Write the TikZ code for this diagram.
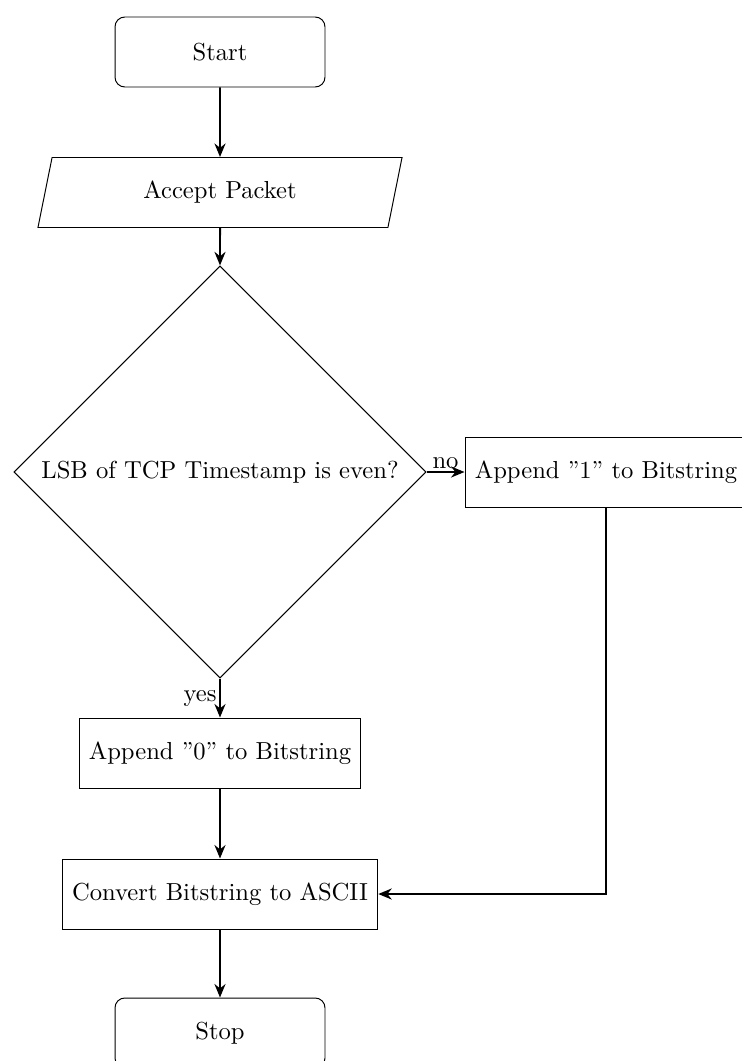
\documentclass[tikz,border=0pt]{standalone}
\usetikzlibrary{shapes.geometric,arrows.meta}
\begin{document}
\begin{tikzpicture}[x=0.4065pt,y=-0.4065pt,
  base/.style={draw=black, line width=0.4pt, align=center, minimum height=1cm},
  startstop/.style={base, rectangle, rounded corners=4pt, minimum width=3cm},
  io/.style={base, trapezium, trapezium left angle=70, trapezium right angle=110,
             trapezium stretches body, minimum width=148pt},
  process/.style={base, rectangle, inner xsep=4pt},
  decision/.style={base, diamond, aspect=1},
  arrow/.style={thick, -{Stealth[length=5.5pt,width=4.5pt]}},
  lbl/.style={inner sep=1pt, font=\normalsize}
]
  % page frame
  \useasboundingbox (0,0) rectangle (742,1061);
  \clip (0,0) rectangle (742,1061);

  % nodes
  \node[startstop] (start)   at (220,52)   {Start};
  \node[io]        (accept)  at (220,192.5) {Accept Packet};
  \node[decision]  (lsb)     at (220,472)  {LSB of TCP Timestamp is even?};
  \node[process]   (one)     at (606,472)  {Append ''1'' to Bitstring};
  \node[process]   (zero)    at (220,753)  {Append ''0'' to Bitstring};
  \node[process]   (convert) at (220,894)  {Convert Bitstring to ASCII};
  \node[startstop] (stop)    at (220,1033) {Stop};

  % connectors
  \draw[arrow] (start) -- (accept);
  \draw[arrow] (accept) -- (lsb);
  \draw[arrow] (lsb.east) -- node[lbl, above] {no} (one.west);
  \draw[arrow] (lsb.south) -- node[lbl, left] {yes} (zero.north);
  \draw[arrow] (zero) -- (convert);
  \draw[arrow] (one.south) |- (convert.east);
  \draw[arrow] (convert) -- (stop);
\end{tikzpicture}
\end{document}
